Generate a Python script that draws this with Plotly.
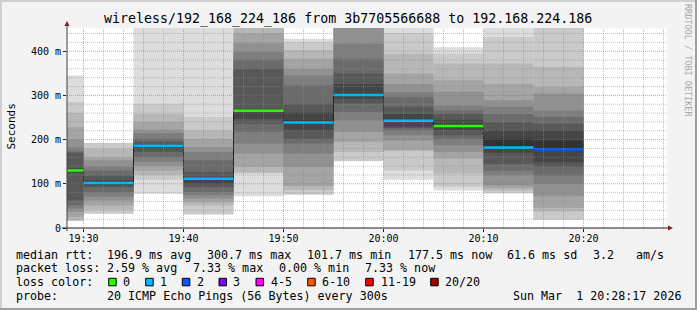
import plotly.graph_objects as go
from datetime import datetime, timedelta

# ---------------- data ----------------
title_text = "wireless/192_168_224_186 from 3b7705566688 to 192.168.224.186"

block_starts = ["2026-03-01 19:25:00", "2026-03-01 19:30:00", "2026-03-01 19:35:00",
                "2026-03-01 19:40:00", "2026-03-01 19:45:00", "2026-03-01 19:50:00",
                "2026-03-01 19:55:00", "2026-03-01 20:00:00", "2026-03-01 20:05:00",
                "2026-03-01 20:10:00", "2026-03-01 20:15:00"]
step_seconds = 300

# median rtt per 5-minute step (ms)
medians = [130.0, 101.7, 186.0, 111.5, 265.0, 238.5, 300.7, 242.5, 231.0, 182.0, 177.5]
# loss bucket index per step (0 -> "0", 1 -> "1", 2 -> "2")
loss_bucket = [0, 1, 1, 1, 0, 1, 1, 1, 0, 1, 2]

# sorted ping rtts (ms) of each step, 20 pings
smoke_1925 = [16, 16.5, 17, 25, 36, 44, 51, 62, 125, 129, 131, 135, 170, 173, 182, 200, 228, 260, 285, 345]
smoke_1930 = [32, 33, 41, 51, 62, 71, 81, 92, 96, 101, 103, 108, 119, 130, 139, 153, 160, 179, 192.5, 193]
smoke_1935 = [77, 109, 120, 130, 140, 150, 160, 172, 178, 185, 188, 190, 195, 202, 215, 222, 240, 258, 281, 480]
smoke_1940 = [30.5, 31, 51, 58, 66, 74, 81, 92.6, 100, 110.5, 113, 116, 127, 153, 172, 183, 202, 221, 251, 480]
smoke_1945 = [72, 124, 125, 138, 168, 191, 217, 236, 247, 264, 267, 270, 360, 381, 398, 418, 441, 480, 500, 520]
smoke_1950 = [75, 75.5, 86, 95, 138, 168, 191, 202, 221, 237, 243, 262, 281, 323, 345, 360, 383, 402, 421, 428]
smoke_1955 = [151, 151.5, 172, 194, 217, 243, 262, 281, 292, 299, 302, 326, 350, 383, 417, 460, 480, 500, 520, 560]
smoke_2000 = [109, 130, 175, 176, 198, 210, 220, 226, 229, 242, 243, 258, 274, 296, 307, 326, 349, 394, 441, 470]
smoke_2005 = [85, 93, 123, 157, 172, 187, 202, 210, 221, 229, 234, 245, 258, 266, 277, 308, 334, 372, 394, 409]
smoke_2010 = [78, 80, 85, 90, 96, 119, 130, 145, 170, 181, 202, 221, 240, 258, 274, 289, 326, 372, 432, 470]
smoke_2015 = [18, 19, 38, 45, 72, 100, 119, 138, 149, 177, 198, 221, 236, 251, 266, 304, 319, 364, 480, 520]

loss_labels = ["0", "1", "2", "3", "4-5", "6-10", "11-19", "20/20"]
loss_colors = ["#26ff00", "#00b8ff", "#0059ff", "#7e00ff", "#ff00ff", "#ff5500", "#ff0000", "#a10000"]

x_range = ["2026-03-01 19:28:21", "2026-03-01 20:28:21"]
y_max = 452.4
y_tickvals = [0, 100, 200, 300, 400]
y_ticktext = ["0", "100 m", "200 m", "300 m", "400 m"]

legend_median = ["median rtt:", "196.9 ms avg", "300.7 ms max", "101.7 ms min",
                 "177.5 ms now", "61.6 ms sd", "3.2", "am/s"]
legend_loss = ["packet loss:", "2.59 % avg", "7.33 % max", "0.00 % min", "7.33 % now"]
legend_probe = ["probe:", "20 ICMP Echo Pings (56 Bytes) every 300s", "Sun Mar\u00a0\u00a01 20:28:17 2026"]

# ---------------- layout geometry (pixels) ----------------
W, H = 697, 310
PL, PR, PT, PB = 67, 667, 28, 228
FONT = "DejaVu Sans Mono"


def px(x):
    return (x - PL) / (PR - PL)


def py(y):
    return (PB - y) / (PB - PT)


smoke = [smoke_1925, smoke_1930, smoke_1935, smoke_1940, smoke_1945, smoke_1950,
         smoke_1955, smoke_2000, smoke_2005, smoke_2010, smoke_2015]

starts = [datetime.strptime(s, "%Y-%m-%d %H:%M:%S") for s in block_starts]
step = timedelta(seconds=step_seconds)
centers = [s + step / 2 for s in starts]
ends = [s + step for s in starts]

fig = go.Figure()

# smoke layers: outermost (lightest) first
half = 10
for i in range(half):
    g = int(190 / half * (half - (i + 1))) + 50
    base = [blk[i] for blk in smoke]
    height = [blk[19 - i] - blk[i] for blk in smoke]
    fig.add_trace(go.Bar(
        x=centers, y=height, base=base, width=[step_seconds * 1000] * len(centers),
        marker=dict(color=f"rgb({g},{g},{g})", line=dict(width=0)),
        hoverinfo="skip", showlegend=False))

# median step line
fig.add_trace(go.Scatter(
    x=starts + [ends[-1]], y=medians + [medians[-1]], mode="lines",
    line=dict(shape="hv", color="#202020", width=1), hoverinfo="skip", showlegend=False))

# coloured median segments by loss
for b in sorted(set(loss_bucket)):
    xs, ys = [], []
    for s, e, m, lb in zip(starts, ends, medians, loss_bucket):
        if lb == b:
            xs += [s, e, None]
            ys += [m, m, None]
    fig.add_trace(go.Scatter(x=xs, y=ys, mode="lines",
                             line=dict(color=loss_colors[b], width=2.5),
                             hoverinfo="skip", showlegend=False))

shapes = []
minor_col = "rgba(140,140,140,0.55)"
major_col = "rgba(222,79,79,0.6)"
t0 = datetime(2026, 3, 1, 19, 30)
for k in range(0, 30):
    t = t0 + timedelta(minutes=2 * k)
    col = major_col if (2 * k) % 10 == 0 else minor_col
    shapes.append(dict(type="line", xref="x", yref="paper", x0=t, x1=t, y0=0, y1=1,
                       line=dict(color=col, width=1, dash="1px,1px"), layer="above"))
for v in range(20, 441, 20):
    col = major_col if v % 100 == 0 else minor_col
    shapes.append(dict(type="line", xref="paper", yref="y", x0=0, x1=1, y0=v, y1=v,
                       line=dict(color=col, width=1, dash="1px,1px"), layer="above"))

# axes lines and arrows
shapes.append(dict(type="line", xref="paper", yref="paper", x0=px(62), x1=px(668), y0=py(228), y1=py(228),
                   line=dict(color="#202020", width=1), layer="above"))
shapes.append(dict(type="line", xref="paper", yref="paper", x0=px(67), x1=px(67), y0=py(231), y1=py(24),
                   line=dict(color="#404040", width=1), layer="above"))
shapes.append(dict(type="path", xref="paper", yref="paper",
                   path=f"M {px(668)} {py(225.5)} L {px(673)} {py(228)} L {px(668)} {py(230.5)} Z",
                   fillcolor="#801f1f", line=dict(width=0), layer="above"))
shapes.append(dict(type="path", xref="paper", yref="paper",
                   path=f"M {px(64.5)} {py(26)} L {px(67)} {py(21)} L {px(69.5)} {py(26)} Z",
                   fillcolor="#801f1f", line=dict(width=0), layer="above"))

# frame
shapes.append(dict(type="rect", xref="paper", yref="paper", x0=px(0), x1=px(W), y0=py(0), y1=py(2),
                   fillcolor="#cfcfcf", line=dict(width=0), layer="above"))
shapes.append(dict(type="rect", xref="paper", yref="paper", x0=px(0), x1=px(2), y0=py(0), y1=py(H),
                   fillcolor="#cfcfcf", line=dict(width=0), layer="above"))
shapes.append(dict(type="rect", xref="paper", yref="paper", x0=px(0), x1=px(W), y0=py(H - 2), y1=py(H),
                   fillcolor="#9e9e9e", line=dict(width=0), layer="above"))
shapes.append(dict(type="rect", xref="paper", yref="paper", x0=px(W - 2), x1=px(W), y0=py(0), y1=py(H),
                   fillcolor="#9e9e9e", line=dict(width=0), layer="above"))

annotations = []


def ann(text, x, y, size=11.67, anchor="left", color="#000000", angle=0):
    annotations.append(dict(text=text, x=px(x), y=py(y), xref="paper", yref="paper",
                            xanchor=anchor, yanchor="middle", showarrow=False, borderpad=0,
                            textangle=angle, font=dict(family=FONT, size=size, color=color)))


ann(title_text, 348, 19, size=13.3, anchor="center")
ann("Seconds", 10.5, 127, size=11, anchor="center", angle=-90)
ann("RRDTOOL / TOBI OETIKER", 688, 60, size=8.5, anchor="center", color="#a8a8a8", angle=90)

row1_x = [16, 107.3, 207.3, 307.3, 407.7, 506.7, 592.7, 635.7]
for t, x in zip(legend_median, row1_x):
    ann(t, x - 1, 254.7)
row2_x = [16, 107.3, 193.3, 279.3, 365]
for t, x in zip(legend_loss, row2_x):
    ann(t, x - 1, 268)
ann("loss color:", 15, 282.3)
box_x = [108.7, 145.7, 182.3, 219, 256, 307.7, 365.7, 430.7]
lab_x = [123.3, 160, 196.7, 233.3, 270.7, 322.3, 380.7, 445]
for lab, col, bx, lx in zip(loss_labels, loss_colors, box_x, lab_x):
    shapes.append(dict(type="rect", xref="paper", yref="paper", x0=px(bx), x1=px(bx + 7.5),
                       y0=py(278.3), y1=py(285.8), fillcolor=col,
                       line=dict(color="#000000", width=1), layer="above"))
    ann(lab, lx - 1, 282.3)
row4_x = [16, 107.3, 513.3]
for t, x in zip(legend_probe, row4_x):
    ann(t, x - 1, 296)

fig.update_layout(
    width=W, height=H,
    margin=dict(l=PL, r=W - PR, t=PT, b=H - PB, pad=0),
    paper_bgcolor="#f3f3f3", plot_bgcolor="#ffffff",
    barmode="overlay", showlegend=False,
    shapes=shapes, annotations=annotations,
    xaxis=dict(type="date", range=x_range, showgrid=False, zeroline=False, showline=False,
               tickformat="%H:%M", dtick=600000, tick0="2026-03-01 19:30:00",
               ticks="outside", ticklen=3, tickcolor="#202020", tickwidth=1,
               ticklabelstandoff=-2,
               tickfont=dict(family=FONT, size=10, color="#000000")),
    yaxis=dict(range=[0, y_max], showgrid=False, zeroline=False, showline=False,
               tickvals=y_tickvals, ticktext=y_ticktext,
               ticks="outside", ticklen=3, tickcolor="#202020", tickwidth=1,
               tickfont=dict(family=FONT, size=10, color="#000000")),
)

fig.write_html("out.html")
